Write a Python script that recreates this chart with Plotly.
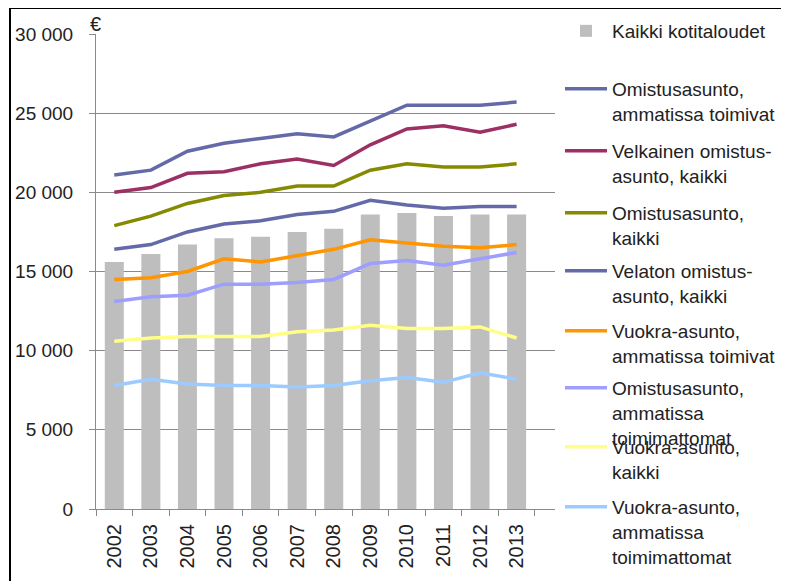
import plotly.graph_objects as go

years = ["2002", "2003", "2004", "2005", "2006", "2007", "2008", "2009", "2010", "2011", "2012", "2013"]

kaikki_kotitaloudet = [15600, 16100, 16700, 17100, 17200, 17500, 17700, 18600, 18700, 18500, 18600, 18600]
omistus_ammatissa = [21100, 21400, 22600, 23100, 23400, 23700, 23500, 24500, 25500, 25500, 25500, 25700]
velkainen_kaikki = [20000, 20300, 21200, 21300, 21800, 22100, 21700, 23000, 24000, 24200, 23800, 24300]
omistus_kaikki = [17900, 18500, 19300, 19800, 20000, 20400, 20400, 21400, 21800, 21600, 21600, 21800]
velaton_kaikki = [16400, 16700, 17500, 18000, 18200, 18600, 18800, 19500, 19200, 19000, 19100, 19100]
vuokra_ammatissa = [14500, 14600, 15000, 15800, 15600, 16000, 16400, 17000, 16800, 16600, 16500, 16700]
omistus_toimimattomat = [13100, 13400, 13500, 14200, 14200, 14300, 14500, 15500, 15700, 15400, 15800, 16200]
vuokra_kaikki = [10600, 10800, 10900, 10900, 10900, 11200, 11300, 11600, 11400, 11400, 11500, 10800]
vuokra_toimimattomat = [7800, 8200, 7900, 7800, 7800, 7700, 7800, 8100, 8300, 8000, 8600, 8200]

bar_name = "Kaikki kotitaloudet"
line_names = [
    "Omistusasunto,<br>ammatissa toimivat",
    "Velkainen omistus-<br>asunto, kaikki",
    "Omistusasunto,<br>kaikki",
    "Velaton omistus-<br>asunto, kaikki",
    "Vuokra-asunto,<br>ammatissa toimivat",
    "Omistusasunto,<br>ammatissa<br>toimimattomat",
    "Vuokra-asunto,<br>kaikki",
    "Vuokra-asunto,<br>ammatissa<br>toimimattomat",
]
line_values = [omistus_ammatissa, velkainen_kaikki, omistus_kaikki, velaton_kaikki,
               vuokra_ammatissa, omistus_toimimattomat, vuokra_kaikki, vuokra_toimimattomat]
line_colors = ["#646AA8", "#9C2F63", "#858A00", "#646AA8", "#FF9500", "#9E9EFF", "#FFFF88", "#9CCBFF"]

FONT = "Liberation Sans, Arial, sans-serif"
TXT = "#222222"
GRID = "#8a8a8a"

# the page body has an 8px margin, so the figure is drawn 8px smaller and shifted
OFF = 8
W, H = 789 - OFF, 581 - OFF
# plot area in target-image pixels
PL, PR, PT, PB = 96, 555, 34, 509


def px_x(p):
    return (p - PL) / (PR - PL)


def px_y(p):
    return (PB - p) / (PB - PT)


fig = go.Figure()
fig.add_trace(go.Bar(
    x=years, y=kaikki_kotitaloudet, name=bar_name, width=0.52,
    marker=dict(color="#BEBEBE", line=dict(width=0)), legend="legend", hoverinfo="skip",
))
for i, (nm, vals, col) in enumerate(zip(line_names, line_values, line_colors)):
    fig.add_trace(go.Scatter(
        x=years, y=vals, name=nm, mode="lines",
        line=dict(color=col, width=3.5), legend="legend%d" % (i + 2), hoverinfo="skip",
    ))

legend_tops_px = [12, 70, 132, 194, 252, 312, 369, 428, 488]
layout_legends = {}
for i, top in enumerate(legend_tops_px):
    key = "legend" if i == 0 else "legend%d" % (i + 1)
    layout_legends[key] = dict(
        x=px_x(560), y=px_y(top), xanchor="left", yanchor="top",
        bgcolor="rgba(0,0,0,0)", borderwidth=0, valign="top", itemwidth=42,
        font=dict(family=FONT, size=19, color=TXT), itemclick=False, itemdoubleclick=False,
    )

fig.update_layout(
    width=W, height=H,
    margin=dict(l=PL - OFF, r=(W + OFF) - PR, t=PT - OFF, b=(H + OFF) - PB, autoexpand=False),
    paper_bgcolor="white", plot_bgcolor="white",
    separators=", ",
    showlegend=True,
    font=dict(family=FONT, size=19, color=TXT),
    xaxis=dict(
        type="category", range=[-0.5, 12.05], showgrid=False, showline=True,
        linecolor=GRID, linewidth=1, ticks="outside", tickson="boundaries",
        ticklen=6, tickcolor=GRID, tickangle=-90, ticklabelstandoff=6,
        tickfont=dict(family=FONT, size=20, color=TXT),
    ),
    yaxis=dict(
        range=[0, 30000], tickvals=[0, 5000, 10000, 15000, 20000, 25000, 30000],
        tickformat=",d", showgrid=True, gridcolor=GRID, gridwidth=1, zeroline=False,
        showline=True, linecolor=GRID, linewidth=1, ticks="outside", ticklen=6,
        tickcolor=GRID, ticklabelstandoff=12,
        tickfont=dict(family=FONT, size=19, color=TXT),
    ),
    annotations=[dict(
        x=0, y=1, xref="paper", yref="paper", text="€", showarrow=False,
        xanchor="center", yanchor="bottom", yshift=-3, xshift=-1,
        font=dict(family=FONT, size=20, color=TXT),
    )],
    shapes=[
        dict(type="line", xref="paper", yref="paper", x0=px_x(10), x1=px_x(10),
             y0=px_y(600), y1=px_y(8), line=dict(color="black", width=2)),
        dict(type="line", xref="paper", yref="paper", x0=px_x(10), x1=px_x(800),
             y0=px_y(8), y1=px_y(8), line=dict(color="black", width=2)),
    ],
    **layout_legends,
)

fig.write_html("out.html")
